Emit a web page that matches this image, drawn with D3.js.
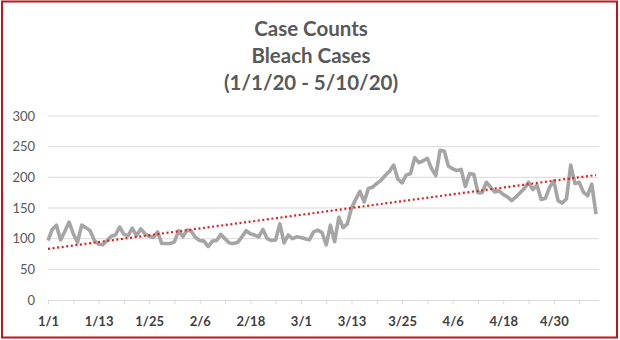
<!DOCTYPE html>
<html><head><meta charset="utf-8">
<script src="https://cdn.jsdelivr.net/npm/d3@7"></script>
<style>body{margin:0;background:#fff}svg{display:block}</style>
</head><body><svg id="c" width="620" height="340"></svg>
<script>
const titleLines = ["Case Counts", "Bleach Cases", "(1/1/20 - 5/10/20)"];
const startDate = new Date(2020, 0, 1);
const endDate = new Date(2020, 4, 11);
const dates = d3.timeDay.range(startDate, endDate);
const cases = [97,115,122,98,112,127,108,94,122,118,113,97,91,90,97,104,106,119,107,105,
  117,105,116,108,104,102,111,92,92,92,95,113,103,114,112,102,97,96,87,96,
  97,107,100,93,92,94,103,113,108,106,103,115,100,97,98,124,93,106,100,103,
  102,100,98,111,114,110,90,122,95,135,118,124,150,164,177,160,182,184,190,195,
  203,210,220,197,191,204,206,232,224,227,231,214,203,244,243,218,214,211,213,185,
  206,205,175,175,192,184,176,178,172,168,162,168,175,182,192,180,187,164,166,184,
  194,162,158,165,220,190,192,176,170,189,140];
const yTicks = [0,50,100,150,200,250,300];
const xTickLabels = ["1/1","1/13","1/25","2/6","2/18","3/1","3/13","3/25","4/6","4/18","4/30"];

const svg = d3.select("#c");
const fmt = d3.timeFormat("%-m/%-d");
const x = d3.scalePoint().domain(dates.map(fmt)).range([48, 596]);
const y = d3.scaleLinear().domain([0, 300]).range([300, 116]);

// border
svg.append("rect").attr("x",2).attr("y",1.5).attr("width",615).attr("height",336)
  .attr("fill","none").attr("stroke","#c0151c").attr("stroke-width",2);

// title
svg.append("g").selectAll("text").data(titleLines).join("text")
  .attr("x",311).attr("y",(d,i)=>36+i*27).attr("text-anchor","middle")
  .attr("font-family","Lato, 'Open Sans', sans-serif").attr("font-weight","bold")
  .attr("font-size",20.5).attr("fill","#595959").text(d=>d);

// gridlines
svg.append("g").selectAll("line").data(yTicks.filter(v=>v>0)).join("line")
  .attr("x1",48).attr("x2",599).attr("y1",d=>y(d)).attr("y2",d=>y(d))
  .attr("stroke","#d9d9d9").attr("stroke-width",1);

// y axis labels
const yAxis = d3.axisLeft(y).tickValues(yTicks).tickSize(0).tickPadding(13);
const gy = svg.append("g").attr("transform","translate(48,0)").call(yAxis);
gy.select(".domain").remove();
gy.selectAll("text").attr("font-family","Lato, 'Open Sans', sans-serif").attr("font-size",13).attr("fill","#595959");

// x axis
const tickEvery = dates.map(fmt).filter((d,i)=>i%6===0);
const xAxis = d3.axisBottom(x).tickValues(tickEvery).tickSize(4).tickFormat(d=>xTickLabels.includes(d)?d:"");
const gx = svg.append("g").attr("transform","translate(0,300)").call(xAxis);
gx.select(".domain").attr("d","M48,0.5H599").attr("stroke","#d9d9d9");
gx.selectAll(".tick line").attr("stroke","#d9d9d9");
gx.selectAll("text").attr("dy","1.45em").attr("font-family","Lato, 'Open Sans', sans-serif")
  .attr("font-size",13).attr("font-weight","bold").attr("fill","#404040");

// line
const line = d3.line().x((d,i)=>x(fmt(dates[i]))).y(d=>y(d));
svg.append("path").datum(cases).attr("d",line).attr("fill","none")
  .attr("stroke","#a5a5a5").attr("stroke-width",3.6).attr("stroke-linejoin","round");

// linear trendline (least squares)
const n = cases.length;
const mx = d3.mean(cases,(d,i)=>i), my = d3.mean(cases);
const slope = d3.sum(cases,(d,i)=>(i-mx)*(d-my))/d3.sum(cases,(d,i)=>(i-mx)*(i-mx));
const icpt = my - slope*mx;
const trend = [0, n-1].map(i=>({i, v: icpt + slope*i}));
svg.append("path").datum(trend)
  .attr("d", d3.line().x(d=>x(fmt(dates[d.i]))).y(d=>y(d.v)))
  .attr("stroke","#e0201f").attr("stroke-width",2.2).attr("stroke-dasharray","2,2.6").attr("fill","none");
</script></body></html>
